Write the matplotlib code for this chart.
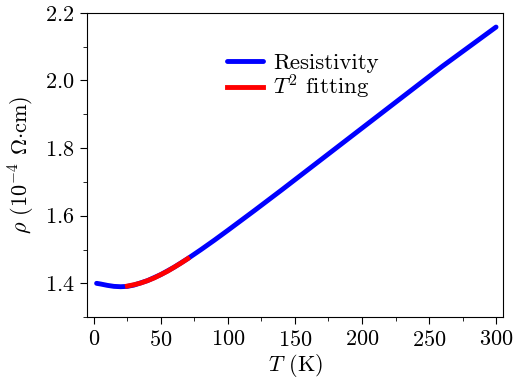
import numpy as np
import matplotlib
matplotlib.use("Agg")
import matplotlib.pyplot as plt
from matplotlib.ticker import MultipleLocator

plt.rcParams['font.family'] = 'serif'
plt.rcParams['font.serif'] = ['cmr10']
plt.rcParams['mathtext.fontset'] = 'cm'
plt.rcParams['axes.formatter.use_mathtext'] = True
plt.rcParams['font.size'] = 16

# measured resistivity (10^-4 Ohm cm)
temp = [2, 5, 10, 15, 20, 25, 30, 40, 50, 60, 70, 80, 90, 100, 120, 140,
        160, 180, 200, 220, 240, 260, 280, 300]
rho = [1.400, 1.398, 1.394, 1.391, 1.390, 1.391, 1.395, 1.408, 1.426, 1.448,
       1.473, 1.500, 1.528, 1.557, 1.616, 1.676, 1.737, 1.798, 1.859, 1.920,
       1.981, 2.042, 2.100, 2.158]

# T^2 fit
temp_fit = [25, 30, 35, 40, 45, 50, 55, 60, 65, 70]
rho_fit = [1.392, 1.396, 1.401, 1.408, 1.416, 1.426, 1.436, 1.448, 1.460, 1.473]

fig = plt.figure(figsize=(5.13, 3.78), dpi=100)
ax = fig.add_subplot(111)
fig.subplots_adjust(left=0.170, right=0.980, top=0.966, bottom=0.161)

ax.plot(temp, rho, color='b', lw=3.5, label='Resistivity', solid_capstyle='round')
ax.plot(temp_fit, rho_fit, color='r', lw=3.5, label=r'$T^2$ fitting')

ax.set_xlim(-5, 305)
ax.set_ylim(1.3, 2.2)
ax.xaxis.set_major_locator(MultipleLocator(50))
ax.xaxis.set_minor_locator(MultipleLocator(25))
ax.yaxis.set_major_locator(MultipleLocator(0.2))
ax.yaxis.set_minor_locator(MultipleLocator(0.1))
ax.tick_params(which='both', direction='out', top=False, right=False)
ax.tick_params(which='major', length=5, pad=4)
ax.tick_params(which='minor', length=3)

ax.set_xlabel(r'$T$ (K)', labelpad=2)
ax.set_ylabel(r'$\rho$ (10$^{-4}$ $\Omega$$\cdot$cm)', labelpad=6)

ax.legend(loc='upper left', bbox_to_anchor=(0.337, 0.868), frameon=False,
          handlelength=1.55, handletextpad=0.45, labelspacing=0.0, borderpad=0,
          borderaxespad=0, fontsize=16.5)

plt.savefig('out.png')
